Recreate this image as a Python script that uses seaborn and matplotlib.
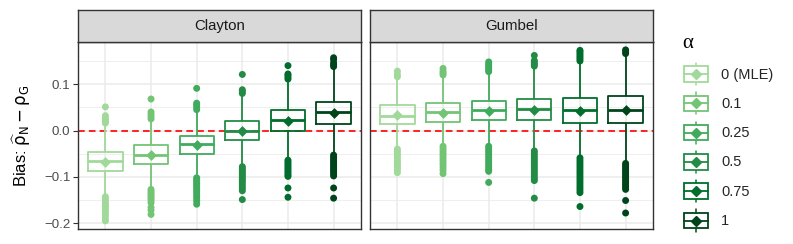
import matplotlib
matplotlib.use("Agg")
import matplotlib.pyplot as plt
from matplotlib.legend_handler import HandlerBase
from matplotlib.lines import Line2D
from matplotlib.patches import Patch, Rectangle
import pandas as pd
import seaborn as sns

# --- data ------------------------------------------------------------------
alpha_labels = ["0 (MLE)", "0.1", "0.25", "0.5", "0.75", "1"]
greens = ["#a1d99b", "#74c476", "#41ab5d", "#238b45", "#006d2c", "#00441b"]

clayton_lo = [-0.140, -0.122, -0.098, -0.074, -0.060, -0.050]
clayton_q1 = [-0.088, -0.072, -0.051, -0.021, -0.001, 0.014]
clayton_med = [-0.066, -0.052, -0.029, 0.000, 0.023, 0.040]
clayton_q3 = [-0.047, -0.032, -0.012, 0.020, 0.044, 0.062]
clayton_hi = [0.012, 0.020, 0.040, 0.076, 0.106, 0.134]
clayton_mean = [-0.068, -0.052, -0.031, -0.001, 0.021, 0.037]
clayton_outliers = [
    [0.016, 0.020, 0.024, 0.028, 0.032, 0.051,
     -0.143, -0.148, -0.153, -0.158, -0.163, -0.168, -0.173, -0.178, -0.184, -0.190, -0.195],
    [0.025, 0.030, 0.035, 0.040, 0.068,
     -0.127, -0.131, -0.135, -0.139, -0.143, -0.147, -0.151, -0.156, -0.166, -0.172, -0.181],
    [0.045, 0.050, 0.055, 0.059, 0.091,
     -0.102, -0.106, -0.110, -0.114, -0.118, -0.122, -0.126, -0.131, -0.136, -0.141, -0.146,
     -0.152, -0.159],
    [0.080, 0.084, 0.088, 0.121,
     -0.078, -0.082, -0.086, -0.090, -0.094, -0.098, -0.102, -0.106, -0.110, -0.115, -0.120,
     -0.125, -0.130, -0.149],
    [0.111, 0.115, 0.119, 0.122, 0.140,
     -0.064, -0.068, -0.072, -0.076, -0.080, -0.084, -0.088, -0.092, -0.096, -0.099, -0.124,
     -0.144],
    [0.138, 0.142, 0.146, 0.153, 0.157,
     -0.053, -0.057, -0.061, -0.065, -0.069, -0.073, -0.077, -0.081, -0.085, -0.089, -0.093,
     -0.098, -0.124, -0.146],
]

gumbel_lo = [-0.036, -0.030, -0.030, -0.040, -0.055, -0.067]
gumbel_q1 = [0.014, 0.019, 0.023, 0.022, 0.017, 0.016]
gumbel_med = [0.031, 0.039, 0.044, 0.046, 0.045, 0.045]
gumbel_q3 = [0.054, 0.059, 0.064, 0.068, 0.071, 0.074]
gumbel_hi = [0.110, 0.116, 0.122, 0.134, 0.146, 0.162]
gumbel_mean = [0.033, 0.037, 0.043, 0.045, 0.043, 0.044]
gumbel_outliers = [
    [0.116, 0.121, 0.128,
     -0.040, -0.045, -0.050, -0.055, -0.060, -0.065, -0.070, -0.075, -0.080, -0.085, -0.091],
    [0.120, 0.124, 0.128, 0.134,
     -0.034, -0.039, -0.044, -0.049, -0.054, -0.059, -0.064, -0.069, -0.074, -0.080, -0.086,
     -0.093],
    [0.127, 0.131, 0.135, 0.139, 0.143, 0.148,
     -0.034, -0.039, -0.044, -0.049, -0.054, -0.059, -0.064, -0.069, -0.074, -0.079, -0.084,
     -0.088, -0.112],
    [0.139, 0.143, 0.147, 0.151, 0.162,
     -0.044, -0.049, -0.054, -0.059, -0.064, -0.069, -0.074, -0.079, -0.084, -0.089, -0.094,
     -0.099, -0.104, -0.108, -0.146],
    [0.150, 0.154, 0.158, 0.162, 0.166, 0.170, 0.173,
     -0.059, -0.064, -0.069, -0.074, -0.079, -0.084, -0.089, -0.094, -0.099, -0.104, -0.109,
     -0.114, -0.119, -0.124, -0.129, -0.134, -0.164],
    [0.166, 0.170, 0.174,
     -0.071, -0.075, -0.079, -0.083, -0.087, -0.091, -0.095, -0.099, -0.103, -0.107, -0.111,
     -0.115, -0.119, -0.123, -0.127, -0.151, -0.178],
]

copulas = ["Clayton", "Gumbel"]


def long_frame(per_alpha):
    rows = [(lab, v) for lab, vals in zip(alpha_labels, per_alpha) for v in vals]
    return pd.DataFrame(rows, columns=["alpha", "bias"])


def copula_frames(lo, q1, med, q3, hi, mean, outliers):
    box = long_frame([list(t) for t in zip(lo, q1, med, q3, hi)])
    means = long_frame([[m] for m in mean])
    outs = long_frame(outliers)
    return box, means, outs


frames = {
    "Clayton": copula_frames(clayton_lo, clayton_q1, clayton_med, clayton_q3,
                             clayton_hi, clayton_mean, clayton_outliers),
    "Gumbel": copula_frames(gumbel_lo, gumbel_q1, gumbel_med, gumbel_q3,
                            gumbel_hi, gumbel_mean, gumbel_outliers),
}


class BoxKey(HandlerBase):
    """ggplot-like boxplot legend key."""

    def create_artists(self, legend, orig_handle, xdescent, ydescent, width, height,
                       fontsize, trans):
        c = orig_handle.get_edgecolor()
        x0, y0 = -xdescent, -ydescent
        cx, cy = x0 + width / 2, y0 + height / 2
        bh = 0.65 * height
        wh = 0.46 * height
        arts = [
            Line2D([cx, cx], [cy + bh / 2, cy + wh], color=c, lw=1.1, transform=trans),
            Line2D([cx, cx], [cy - bh / 2, cy - wh], color=c, lw=1.1, transform=trans),
            Rectangle((x0, cy - bh / 2), width, bh, facecolor="white", edgecolor=c,
                      lw=1.3, transform=trans),
            Line2D([x0, x0 + width], [cy, cy], color=c, lw=1.3, transform=trans),
            Line2D([cx], [cy], marker="D", ms=5, color=c, lw=0, transform=trans),
        ]
        return arts


sns.set_theme(style="white")
plt.rcParams["font.family"] = ["Liberation Sans", "DejaVu Sans"]
plt.rcParams["mathtext.fontset"] = "dejavusans"

W, H = 793, 244
fig = plt.figure(figsize=(W / 100, H / 100), dpi=100)

panel_left = [78, 370]
panel_w = 283
panel_top, panel_bot, strip_top = 42, 229, 10
border = "#333333"

for i, cop in enumerate(copulas):
    box, means, outs = frames[cop]
    ax = fig.add_axes([panel_left[i] / W, 1 - panel_bot / H, panel_w / W,
                       (panel_bot - panel_top) / H])
    ax.axhline(0, color="#FF0000", lw=1.2, ls=(0, (4, 2.5)), zorder=1.5)
    sns.boxplot(data=box, x="alpha", y="bias", hue="alpha", order=alpha_labels,
                hue_order=alpha_labels, palette=greens, fill=False, whis=(0, 100),
                width=0.75, linewidth=1.3, legend=False, ax=ax, showcaps=False,
                medianprops={"linewidth": 2.0})
    # ggplot boxes are filled white
    for p in ax.patches:
        p.set_facecolor("white")
    sns.stripplot(data=outs, x="alpha", y="bias", hue="alpha", order=alpha_labels,
                  hue_order=alpha_labels, palette=greens, jitter=False, size=5,
                  linewidth=0, legend=False, ax=ax, zorder=3)
    sns.stripplot(data=means, x="alpha", y="bias", hue="alpha", order=alpha_labels,
                  hue_order=alpha_labels, palette=greens, jitter=False, size=5.5,
                  marker="D", linewidth=0, legend=False, ax=ax, zorder=4)

    ax.set_xlim(-0.6, 5.6)
    ax.set_ylim(-0.2125, 0.191)
    ax.set_yticks([-0.2, -0.1, 0.0, 0.1])
    ax.set_yticks([-0.15, -0.05, 0.05, 0.15], minor=True)
    ax.grid(which="major", color="#EBEBEB", lw=1.1)
    ax.grid(which="minor", axis="y", color="#EBEBEB", lw=0.55)
    ax.set_axisbelow(True)
    ax.set_xlabel("")
    ax.set_ylabel("")
    ax.tick_params(axis="x", length=0, labelbottom=False)
    ax.tick_params(axis="y", which="minor", length=0)
    if i == 0:
        ax.tick_params(axis="y", which="major", length=3.5, width=0.8, color=border,
                       labelsize=9.6, labelcolor="#4D4D4D", pad=2, left=True)
    else:
        ax.tick_params(axis="y", which="both", length=0, labelleft=False)
    for s in ax.spines.values():
        s.set_color(border)
        s.set_linewidth(1.0)

    sax = fig.add_axes([panel_left[i] / W, 1 - panel_top / H, panel_w / W,
                        (panel_top - strip_top) / H])
    sax.set_facecolor("#D9D9D9")
    sax.set_xticks([])
    sax.set_yticks([])
    for s in sax.spines.values():
        s.set_color(border)
        s.set_linewidth(1.0)
    sax.text(0.5, 0.5, cop, ha="center", va="center", fontsize=10.8, color="#1A1A1A",
             transform=sax.transAxes)

fig.text(0.027, 1 - 135.5 / H,
         r"Bias: $\mathrm{\widehat{\rho}}_{\mathrm{N}} - \mathrm{\rho}_{\mathrm{G}}$",
         rotation=90, ha="center", va="center", fontsize=12, color="black")

# legend: title placed by hand, entries as a title-less legend
fig.text(682 / W, 1 - 43 / H, "α", ha="left", va="center", fontsize=15,
         family="Liberation Serif", color="black")
handles = [Patch(edgecolor=c, facecolor="white", label=lab)
           for c, lab in zip(greens, alpha_labels)]
fig.legend(handles=handles, handler_map={Patch: BoxKey()},
           loc="upper left", bbox_to_anchor=(684 / W, 1 - 62 / H), frameon=False,
           borderpad=0, borderaxespad=0, fontsize=10.5, handlelength=1.65,
           handleheight=2.16, labelspacing=0.36, handletextpad=0.9)

fig.savefig("out.png", dpi=100)
